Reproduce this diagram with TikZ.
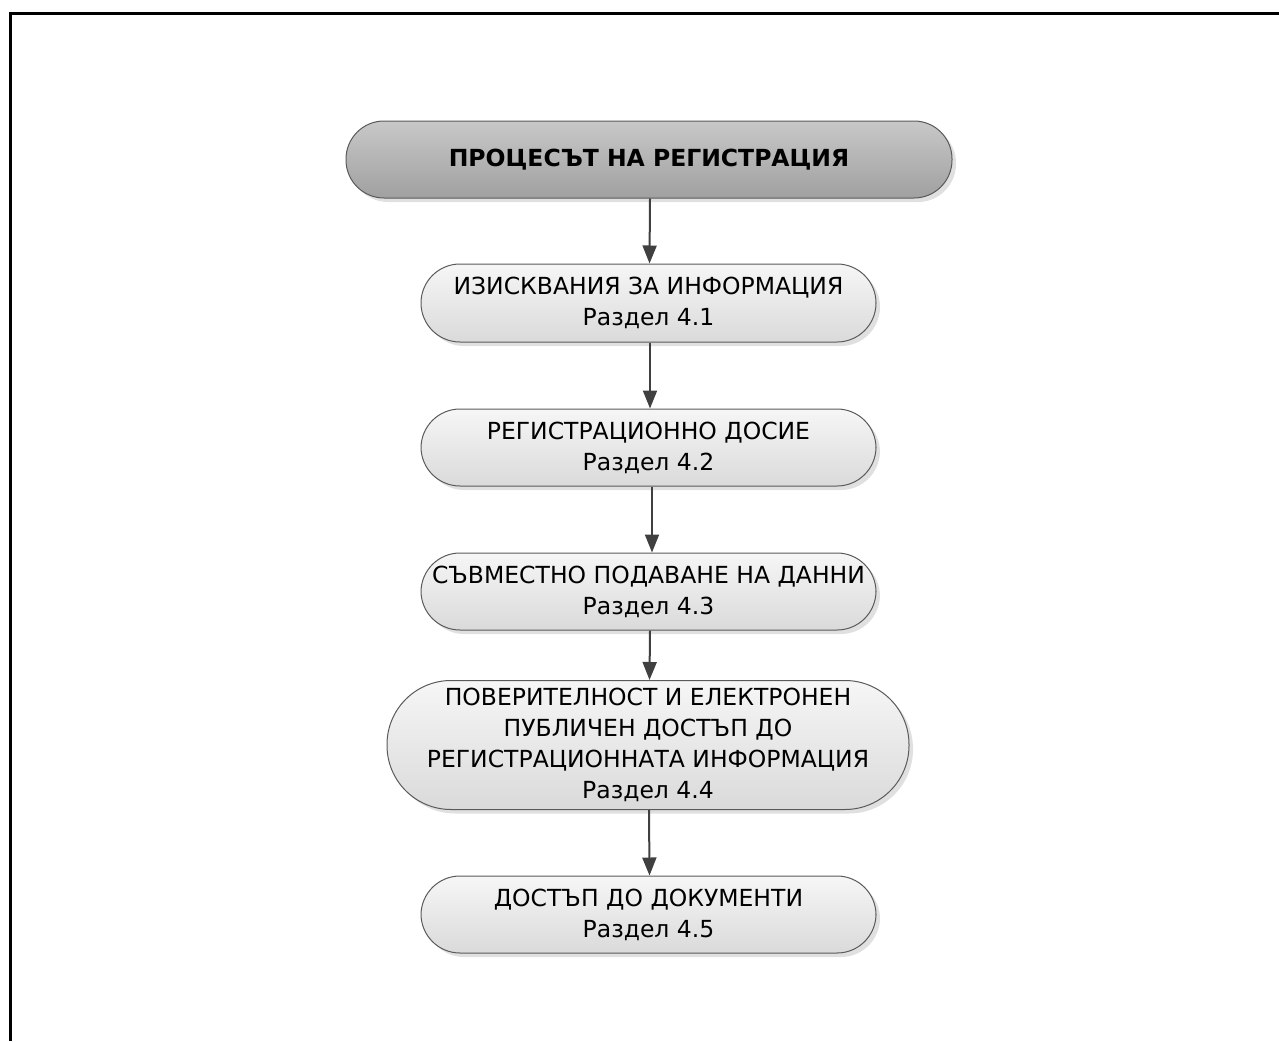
\documentclass[tikz,border=0pt]{standalone}
\usepackage{fontspec}
\setmainfont{DejaVu Sans}
\usetikzlibrary{arrows.meta,shadows}
\definecolor{boxtop}{RGB}{246,246,246}
\definecolor{boxbot}{RGB}{218,218,218}
\definecolor{headtop}{RGB}{200,200,200}
\definecolor{headbot}{RGB}{160,160,160}
\definecolor{edge}{RGB}{90,90,90}
\definecolor{arrowc}{RGB}{64,64,64}
\tikzset{
  stadium/.style={draw=edge, line width=1pt, align=center,
    rounded corners=#1, inner sep=0pt,
    top color=boxtop, bottom color=boxbot,
    drop shadow={shadow xshift=4pt, shadow yshift=-4pt, fill=black, opacity=0.12},
    font=\fontsize{23.5}{31}\selectfont},
  headbox/.style={stadium=38pt, top color=headtop, bottom color=headbot,
    font=\bfseries\fontsize{23.5}{31}\selectfont},
  flow/.style={draw=arrowc, line width=2pt, -{Triangle[length=18pt,width=14pt]}}
}
\begin{document}
\begin{tikzpicture}[x=1pt,y=-1pt]
\useasboundingbox (0,0) rectangle (1279,1041);
% frame along the top and left edges
\draw[line width=3pt] (10,1041) -- (10,14) -- (1279,14);

\node[headbox, minimum width=606pt, minimum height=77pt] (head) at (649,159.5) {ПРОЦЕСЪТ НА РЕГИСТРАЦИЯ};
\node[stadium=39pt, minimum width=455pt, minimum height=78pt] (s1) at (648.5,303) {ИЗИСКВАНИЯ ЗА ИНФОРМАЦИЯ\\Раздел 4.1};
\node[stadium=39pt, minimum width=455pt, minimum height=77pt] (s2) at (648.5,447.5) {РЕГИСТРАЦИОННО ДОСИЕ\\Раздел 4.2};
\node[stadium=39pt, minimum width=455pt, minimum height=77pt] (s3) at (648.5,591.5) {СЪВМЕСТНО ПОДАВАНЕ НА ДАННИ\\Раздел 4.3};
\node[stadium=64pt, minimum width=522pt, minimum height=129pt] (s4) at (648,745) {ПОВЕРИТЕЛНОСТ И ЕЛЕКТРОНЕН\\ПУБЛИЧЕН ДОСТЪП ДО\\РЕГИСТРАЦИОННАТА ИНФОРМАЦИЯ\\Раздел 4.4};
\node[stadium=39pt, minimum width=455pt, minimum height=77pt] (s5) at (648.5,914.5) {ДОСТЪП ДО ДОКУМЕНТИ\\Раздел 4.5};

\draw[flow] ([xshift=1pt]head.south) -- ([xshift=1pt]s1.north);
\draw[flow] ([xshift=1.5pt]s1.south) -- ([xshift=1.5pt]s2.north);
\draw[flow] ([xshift=3.5pt]s2.south) -- ([xshift=3.5pt]s3.north);
\draw[flow] ([xshift=1.5pt]s3.south) -- ([xshift=1.5pt]s4.north);
\draw[flow] ([xshift=1pt]s4.south) -- ([xshift=1pt]s5.north);
\end{tikzpicture}
\end{document}
